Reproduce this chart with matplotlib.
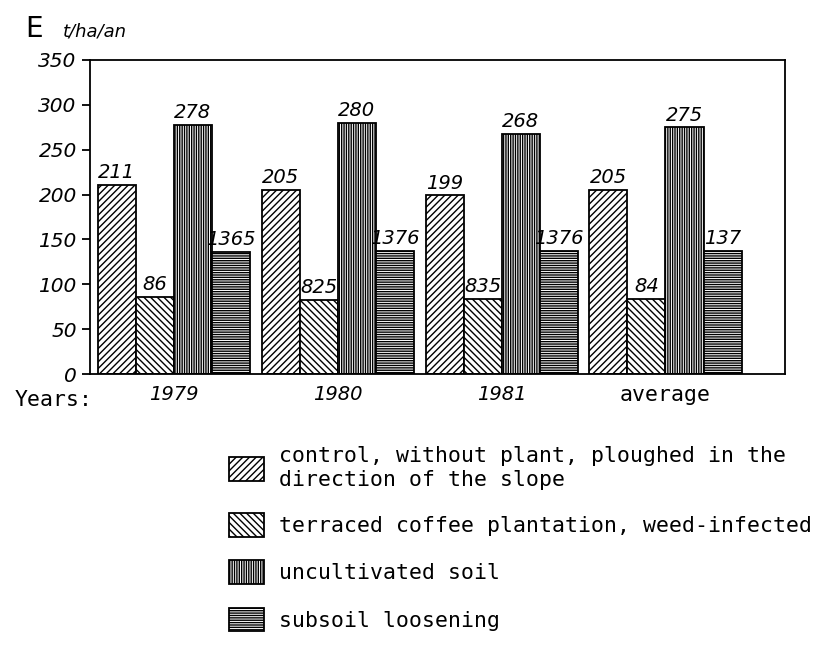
import matplotlib.pyplot as plt
import numpy as np

plt.rcParams['hatch.linewidth'] = 1.0

# data
groups = ['1979', '1980', '1981', 'average']
series = [
    'control, without plant, ploughed in the\ndirection of the slope',
    'terraced coffee plantation, weed-infected',
    'uncultivated soil',
    'subsoil loosening',
]
control = [211, 205, 199, 205]
terraced = [86, 82.5, 83.5, 84]
uncultivated = [278, 280, 268, 275]
subsoil = [136.5, 137.6, 137.6, 137]
value_labels = [
    ['211', '205', '199', '205'],
    ['86', '825', '835', '84'],
    ['278', '280', '268', '275'],
    ['1365', '1376', '1376', '137'],
]
yticks = [0, 50, 100, 150, 200, 250, 300, 350]

hatches = ['/////', '\\\\\\\\\\', '|||||||', '-------']
values = [control, terraced, uncultivated, subsoil]

fig = plt.figure(figsize=(8.4, 6.49), dpi=100)
ax = fig.add_axes([0.107, 0.4237, 0.8275, 0.4839])

x = np.arange(len(groups))
w = 0.232
handles = []
for i, (vals, h, lab) in enumerate(zip(values, hatches, series)):
    bars = ax.bar(x + (i - 1.5) * w, vals, w, facecolor='white',
                  edgecolor='black', hatch=h, linewidth=1.3, label=lab)
    handles.append(bars)
    for b, t in zip(bars, value_labels[i]):
        ax.text(b.get_x() + b.get_width() / 2, b.get_height() + 3, t,
                ha='center', va='bottom', fontsize=14, style='italic')

ax.set_xlim(-0.512, 3.729)
ax.set_ylim(0, 350)
ax.set_yticks(yticks)
ax.set_yticklabels([str(v) for v in yticks], fontsize=14.5, style='italic')
ax.tick_params(axis='y', length=6, width=1.3, direction='out')
ax.set_xticks(x)
ax.set_xticklabels(groups, fontsize=14)
for lbl in ax.get_xticklabels()[:3]:
    lbl.set_style('italic')
ax.get_xticklabels()[3].set_family('DejaVu Sans Mono')
ax.get_xticklabels()[3].set_fontsize(15.5)
ax.tick_params(axis='x', length=0, pad=8)
for s in ax.spines.values():
    s.set_linewidth(1.3)

fig.text(0.018, 0.383, 'Years:', fontsize=15.5, family='DejaVu Sans Mono', va='center')
fig.text(0.03, 0.955, 'E', fontsize=20, va='center')
fig.text(0.075, 0.952, 't/ha/an', fontsize=13, style='italic', va='center')

fig.legend(handles=handles, loc='upper left', bbox_to_anchor=(0.25, 0.342),
           frameon=False, prop={'family': 'DejaVu Sans Mono', 'size': 15.5},
           handlelength=1.6, handleheight=1.3, labelspacing=1.1,
           handletextpad=0.7)

fig.savefig('out.png', dpi=100)
